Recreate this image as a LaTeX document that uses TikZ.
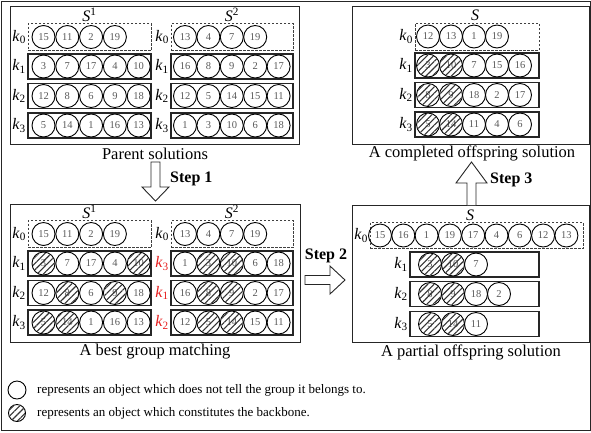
\documentclass[tikz,border=0pt]{standalone}
\usepackage{fontspec}
\setmainfont{Liberation Serif}
\usetikzlibrary{patterns.meta}
\definecolor{numgray}{gray}{0.35}
\definecolor{kred}{RGB}{230,30,30}
\tikzset{
  obj/.style={circle, draw=black, line width=0.9pt, minimum size=23pt, inner sep=0pt, text=numgray, font=\fontsize{10.5}{12}\selectfont},
  hatchfill/.style={pattern={Lines[angle=45,distance=4.5pt,line width=1.1pt]}, pattern color=black!80},
  rowbox/.style={draw=black!85, line width=1.1pt, inner sep=0pt},
  dashbox/.style={draw=black!75, line width=0.9pt, dash pattern=on 2.5pt off 1.5pt, inner sep=0pt},
  panel/.style={draw=black!85, line width=1pt, inner sep=0pt},
  klab/.style={anchor=east, inner sep=0pt, font=\fontsize{16}{18}\selectfont},
  slab/.style={inner sep=0pt, font=\fontsize{16}{18}\selectfont},
  capt/.style={inner sep=0pt, font=\fontsize{16.5}{19}\selectfont},
  steplab/.style={inner sep=0pt, font=\bfseries\fontsize{16}{18}\selectfont},
  blockarrow/.style={draw=black!85, line width=0.9pt, fill=white},
  legtext/.style={anchor=west, inner sep=0pt, font=\fontsize{13}{15}\selectfont},
}
\newcommand{\objrow}[5]{%
  \foreach \nn/\hh [count=\ii] in {#5}{%
    \node[obj] (#1-\ii) at ({#2+(\ii-1)*#4},#3) {\nn};
    \ifnum\hh=1 \path[hatchfill] (#1-\ii.center) circle[radius=10.9pt];\fi
  }}
\newcommand{\grp}[7]{%
  \node[#6, minimum width=#4pt, minimum height=#5pt] (#1) at (#2,#3) {};
  \node[klab] (#1-lab) at ([xshift=-1.5pt]#1.west) {#7};
}
\newcommand{\kk}[1]{\textit{k}\textsubscript{#1}}
\newcommand{\rk}[1]{{\color{kred}\textit{k}\textsubscript{#1}}}
\begin{document}
\begin{tikzpicture}[x=1pt,y=-1pt]
\useasboundingbox (0,0) rectangle (591,432);
\draw[line width=1pt, draw=black!85] (1.5,1.5) rectangle (590,430.5);

% panels
\node[panel, minimum width=289pt, minimum height=138pt] (P1) at (154.5,75) {};
\node[panel, minimum width=290pt, minimum height=138pt] (P2) at (155,273) {};
\node[panel, minimum width=237.5pt, minimum height=138pt] (P3) at (470.75,75) {};
\node[panel, minimum width=237.5pt, minimum height=137pt] (P4) at (470.75,273.5) {};

% ---------- top-left: parent solutions
\node[slab] (TLs1) at (89.5,15) {\textit{S}\textsuperscript{1}};
\node[slab] (TLs2) at (232,15) {\textit{S}\textsuperscript{2}};
\grp{TLa0}{89.5}{37}{123}{27}{dashbox}{\kk0}
\grp{TLa1}{89.5}{66.5}{123}{25}{rowbox}{\kk1}
\grp{TLa2}{89.5}{96}{123}{25}{rowbox}{\kk2}
\grp{TLa3}{89.5}{125.5}{123}{25}{rowbox}{\kk3}
\objrow{TLa0c}{43.5}{37}{23.8}{15/0,11/0,2/0,19/0}
\objrow{TLa1c}{43.5}{66.5}{23.8}{3/0,7/0,17/0,4/0,10/0}
\objrow{TLa2c}{43.5}{96}{23.8}{12/0,8/0,6/0,9/0,18/0}
\objrow{TLa3c}{43.5}{125.5}{23.8}{5/0,14/0,1/0,16/0,13/0}
\grp{TLb0}{232}{37}{122}{27}{dashbox}{\kk0}
\grp{TLb1}{232}{66.5}{122}{25}{rowbox}{\kk1}
\grp{TLb2}{232}{96}{122}{25}{rowbox}{\kk2}
\grp{TLb3}{232}{125.5}{122}{25}{rowbox}{\kk3}
\objrow{TLb0c}{185}{37}{23.4}{13/0,4/0,7/0,19/0}
\objrow{TLb1c}{185}{66.5}{23.4}{16/0,8/0,9/0,2/0,17/0}
\objrow{TLb2c}{185}{96}{23.4}{12/0,5/0,14/0,15/0,11/0}
\objrow{TLb3c}{185}{125.5}{23.4}{1/0,3/0,10/0,6/0,18/0}
\node[capt] (cap1) at (155,154) {Parent solutions};

% ---------- bottom-left: best group matching
\node[slab] (BLs1) at (89.5,212) {\textit{S}\textsuperscript{1}};
\node[slab] (BLs2) at (232,212) {\textit{S}\textsuperscript{2}};
\grp{BLa0}{89.5}{234}{123}{27}{dashbox}{\kk0}
\grp{BLa1}{89.5}{263.5}{123}{25}{rowbox}{\kk1}
\grp{BLa2}{89.5}{293}{123}{25}{rowbox}{\kk2}
\grp{BLa3}{89.5}{322.5}{123}{25}{rowbox}{\kk3}
\objrow{BLa0c}{43.5}{234}{23.8}{15/0,11/0,2/0,19/0}
\objrow{BLa1c}{43.5}{263.5}{23.8}{3/1,7/0,17/0,4/0,10/1}
\objrow{BLa2c}{43.5}{293}{23.8}{12/0,8/1,6/0,9/1,18/0}
\objrow{BLa3c}{43.5}{322.5}{23.8}{5/1,14/1,1/0,16/0,13/0}
\grp{BLb0}{232}{234}{122}{27}{dashbox}{\kk0}
\grp{BLb1}{232}{263.5}{122}{25}{rowbox}{\rk3}
\grp{BLb2}{232}{293}{122}{25}{rowbox}{\rk1}
\grp{BLb3}{232}{322.5}{122}{25}{rowbox}{\rk2}
\objrow{BLb0c}{185}{234}{23.4}{13/0,4/0,7/0,19/0}
\objrow{BLb1c}{185}{263.5}{23.4}{1/0,3/1,10/1,6/0,18/0}
\objrow{BLb2c}{185}{293}{23.4}{16/0,8/1,9/1,2/0,17/0}
\objrow{BLb3c}{185}{322.5}{23.4}{12/0,5/1,14/1,15/0,11/0}
\node[capt] (cap2) at (155,352) {A best group matching};

% ---------- top-right: completed offspring
\node[slab] (TRs) at (475,15) {\textit{S}};
\grp{TR0}{477}{36.5}{124}{27}{dashbox}{\kk0}
\grp{TR1}{477}{65.5}{124}{25}{rowbox}{\kk1}
\grp{TR2}{477}{95}{124}{25}{rowbox}{\kk2}
\grp{TR3}{477}{124.5}{124}{25}{rowbox}{\kk3}
\objrow{TR0c}{428}{36.5}{23}{12/0,13/0,1/0,19/0}
\objrow{TR1c}{428}{65.5}{23}{3/1,10/1,7/0,15/0,16/0}
\objrow{TR2c}{428}{95}{23}{8/1,9/1,18/0,2/0,17/0}
\objrow{TR3c}{428}{124.5}{23}{5/1,14/1,11/0,4/0,6/0}
\node[capt] (cap3) at (472,153) {A completed offspring solution};

% ---------- bottom-right: partial offspring
\node[slab] (BRs) at (470,215) {\textit{S}};
\grp{BR0}{476.5}{235.5}{213}{26}{dashbox}{\kk0}
\grp{BR1}{474.5}{264.5}{129}{25}{rowbox}{\kk1}
\grp{BR2}{474.5}{294}{129}{25}{rowbox}{\kk2}
\grp{BR3}{474.5}{324}{129}{25}{rowbox}{\kk3}
\objrow{BR0c}{380}{235.5}{23.3}{15/0,16/0,1/0,19/0,17/0,4/0,6/0,12/0,13/0}
\objrow{BR1c}{430}{264.5}{23}{3/1,10/1,7/0}
\objrow{BR2c}{430}{294}{23}{8/1,9/1,18/0,2/0}
\objrow{BR3c}{430}{324}{23}{5/1,14/1,11/0}
\node[capt] (cap4) at (471,352) {A partial offspring solution};

% ---------- step arrows
\draw[blockarrow] (151,162) -- (160,162) -- (160,187) -- (169,187) -- (155.5,201) -- (142,187) -- (151,187) -- cycle;
\node[steplab, anchor=west] (st1) at (170,179) {Step 1};
\draw[blockarrow] (305,275.5) -- (330,275.5) -- (330,266) -- (345,280) -- (330,294) -- (330,284.5) -- (305,284.5) -- cycle;
\node[steplab] (st2) at (326,256) {Step 2};
\draw[blockarrow] (467,205) -- (467,183) -- (456,183) -- (471.5,162) -- (487,183) -- (476,183) -- (476,205);
\node[steplab, anchor=west] (st3) at (490,180) {Step 3};

% ---------- legend
\node[obj, minimum size=18pt] (leg1) at (17,390) {};
\node[legtext] (legt1) at (37,390) {represents an object which does not tell the group it belongs to.};
\node[obj, minimum size=17pt] (leg2) at (17,413) {};
\path[hatchfill] (leg2.center) circle[radius=8pt];
\node[legtext] (legt2) at (37,413) {represents an object which constitutes the backbone.};
\end{tikzpicture}
\end{document}
